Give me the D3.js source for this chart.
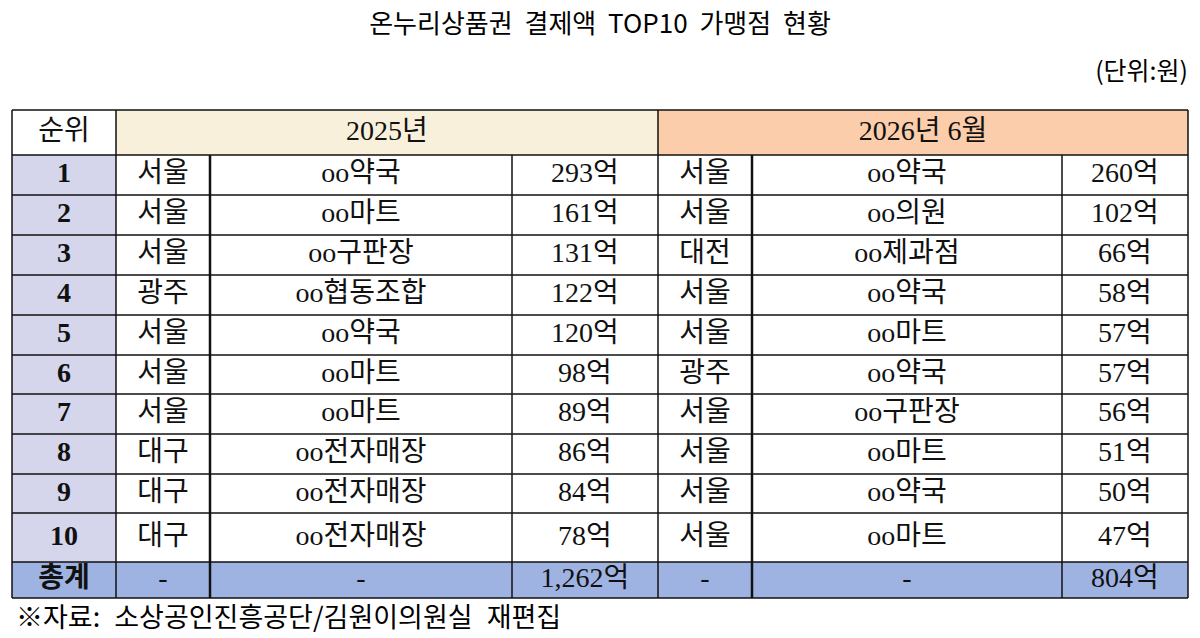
<!DOCTYPE html><html><head><meta charset="utf-8"><script src="https://cdn.jsdelivr.net/npm/d3@7"></script>
<style>body{margin:0;background:#fff}text{font-family:"Noto Sans CJK KR",sans-serif}text.cellt{font-family:"Liberation Serif","Noto Sans CJK KR",serif}</style></head><body><svg id="c" width="1200" height="638"></svg><script>
const title="온누리상품권 결제액 TOP10 가맹점 현황";
const unit="(단위:원)";
const source="※자료: 소상공인진흥공단/김원이의원실 재편집";
const ranks=["1","2","3","4","5","6","7","8","9","10"];
const region2025=["서울","서울","서울","광주","서울","서울","서울","대구","대구","대구"];
const name2025=["oo약국","oo마트","oo구판장","oo협동조합","oo약국","oo마트","oo마트","oo전자매장","oo전자매장","oo전자매장"];
const value2025=[293,161,131,122,120,98,89,86,84,78];
const region2026=["서울","서울","대전","서울","서울","광주","서울","서울","서울","서울"];
const name2026=["oo약국","oo의원","oo제과점","oo약국","oo마트","oo약국","oo구판장","oo마트","oo약국","oo마트"];
const value2026=[260,102,66,58,57,57,56,51,50,47];
const total2025=1262, total2026=804;
const svg=d3.select("#c");
const colX=[12,116,210,512,658,752,1062,1188];
const rowY=[110,155,195,235,275,315,355,394,434,474,513,562,598];
const fmt=v=>d3.format(",")(v)+"억";
svg.append("text").attr("x",600).attr("y",33).attr("text-anchor","middle").attr("font-size",26).attr("word-spacing",6).text(title);
svg.append("text").attr("x",1188).attr("y",80).attr("text-anchor","end").attr("font-size",25).text(unit);
function cell(x0,x1,y0,y1,fill,txt,opts={}){
 if(fill)svg.append("rect").attr("x",x0).attr("y",y0).attr("width",x1-x0).attr("height",y1-y0).attr("fill",fill);
 svg.append("text").attr("class","cellt").attr("x",(x0+x1)/2).attr("y",(y0+y1)/2+1).attr("text-anchor","middle").attr("dominant-baseline","middle")
  .attr("font-size",opts.fs||28).attr("font-weight",opts.bold?700:400).attr("fill","#111").text(txt);
}
cell(colX[0],colX[1],rowY[0],rowY[1],"#fff","순위");
cell(colX[1],colX[4],rowY[0],rowY[1],"#f8f0db","2025년");
cell(colX[4],colX[7],rowY[0],rowY[1],"#fbcdab","2026년 6월");
ranks.forEach((r,i)=>{
 const y0=rowY[i+1],y1=rowY[i+2];
 cell(colX[0],colX[1],y0,y1,"#d5d5ec",r,{bold:true});
 cell(colX[1],colX[2],y0,y1,null,region2025[i]);
 cell(colX[2],colX[3],y0,y1,null,name2025[i]);
 cell(colX[3],colX[4],y0,y1,null,fmt(value2025[i]));
 cell(colX[4],colX[5],y0,y1,null,region2026[i]);
 cell(colX[5],colX[6],y0,y1,null,name2026[i]);
 cell(colX[6],colX[7],y0,y1,null,fmt(value2026[i]));
});
const ty0=rowY[11],ty1=rowY[12];
cell(colX[0],colX[1],ty0,ty1,"#9fb3e2","총계",{bold:true});
[["-","-",fmt(total2025)],["-","-",fmt(total2026)]].forEach((t,k)=>{
 t.forEach((s,j)=>cell(colX[1+k*3+j],colX[2+k*3+j],ty0,ty1,"#9fb3e2",s));
});
const g=svg.append("g").attr("stroke","#111");
rowY.forEach(y=>g.append("line").attr("x1",colX[0]).attr("x2",colX[7]).attr("y1",y).attr("y2",y).attr("stroke-width",1.5));
colX.forEach((x,j)=>{
 const top=(j===0||j===1||j===4||j===7)?rowY[0]:rowY[1];
 g.append("line").attr("x1",x).attr("x2",x).attr("y1",top).attr("y2",rowY[12]).attr("stroke-width",(j===2||j===5)?2.5:1.5);
});
svg.append("text").attr("x",16).attr("y",627).attr("font-size",27).attr("word-spacing",8).text(source);
</script></body></html>
